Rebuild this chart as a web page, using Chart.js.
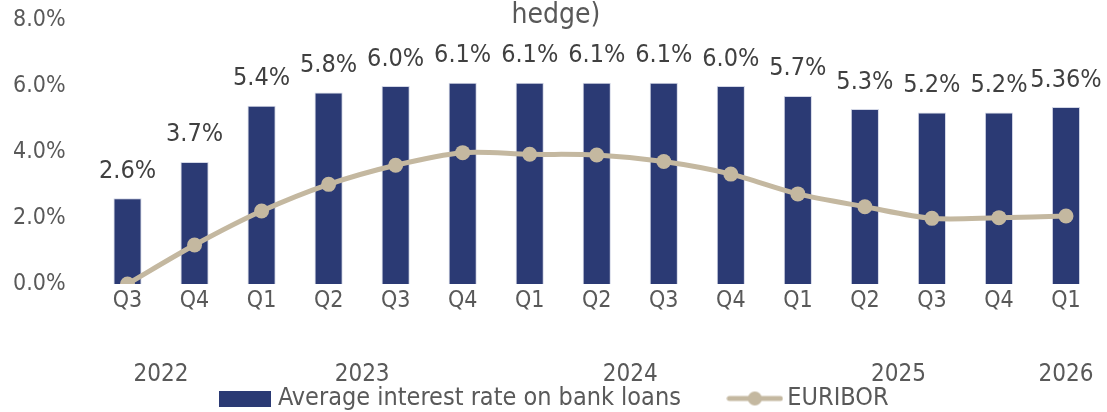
<!DOCTYPE html>
<html>
<head>
<meta charset="utf-8">
<script src="https://cdn.jsdelivr.net/npm/chart.js@4"></script>
<style>
  html, body { margin: 0; padding: 0; background: #fff; }
  #wrap { width: 1107px; height: 412px; }
</style>
</head>
<body>
<div id="wrap"><canvas id="rateChart"></canvas></div>
<script>
// data
const quarters = ['Q3', 'Q4', 'Q1', 'Q2', 'Q3', 'Q4', 'Q1', 'Q2', 'Q3', 'Q4', 'Q1', 'Q2', 'Q3', 'Q4', 'Q1'];
const quarterYears = ['2022', '2022', '2023', '2023', '2023', '2023', '2024', '2024', '2024', '2024', '2025', '2025', '2025', '2025', '2026'];
const loanRate = [2.6, 3.7, 5.4, 5.8, 6.0, 6.1, 6.1, 6.1, 6.1, 6.0, 5.7, 5.3, 5.2, 5.2, 5.36];
const euribor = [0.0, 1.18, 2.21, 3.02, 3.6, 3.98, 3.93, 3.91, 3.71, 3.33, 2.73, 2.34, 1.99, 2.01, 2.06];
const yTicks = [0, 2, 4, 6, 8];
const titleText = 'hedge)';

const FONT = '"DejaVu Sans Condensed", "Liberation Sans Narrow", "Open Sans", sans-serif';
const TEXT = '#595959';
const NAVY = '#2B3A74';
const SAND = '#C4B8A0';

// legend swatches: a plain box and a line with a dot
function swatch(kind) {
    const c = document.createElement('canvas');
    const g = c.getContext('2d');
    if (kind === 'bar') {
        c.width = 52; c.height = 16;
        g.fillStyle = NAVY;
        g.fillRect(0, 0, 52, 16);
    } else {
        c.width = 57; c.height = 16;
        g.strokeStyle = SAND;
        g.lineWidth = 5;
        g.lineCap = 'round';
        g.beginPath(); g.moveTo(3, 8); g.lineTo(54, 8); g.stroke();
        g.fillStyle = SAND;
        g.beginPath(); g.arc(28.5, 8, 7, 0, Math.PI * 2); g.fill();
    }
    return c;
}

function fmt(v) {
    return (Math.round(v * 10) === v * 10 ? v.toFixed(1) : v.toFixed(2)) + '%';
}

// title line, value labels above the bars, year row under the quarters
const extraText = {
    id: 'extraText',
    afterDatasetsDraw(chart) {
        const ctx = chart.ctx;
        ctx.save();
        ctx.textAlign = 'center';
        ctx.textBaseline = 'middle';

        ctx.fillStyle = TEXT;
        ctx.font = '28px ' + FONT;
        ctx.fillText(titleText, 556, 16);

        const meta = chart.getDatasetMeta(1);
        ctx.font = '25px ' + FONT;
        ctx.fillStyle = '#404040';
        meta.data.forEach((bar, i) => {
            ctx.fillText(fmt(loanRate[i]), bar.x, bar.y - 27);
        });

        const xs = chart.scales.x;
        ctx.fillStyle = TEXT;
        ctx.font = '24px ' + FONT;
        let start = 0;
        for (let i = 1; i <= quarterYears.length; i++) {
            if (i === quarterYears.length || quarterYears[i] !== quarterYears[start]) {
                const mid = (xs.getPixelForValue(start) + xs.getPixelForValue(i - 1)) / 2;
                ctx.fillText(quarterYears[start], mid, 375);
                start = i;
            }
        }
        ctx.restore();
    }
};

new Chart(document.getElementById('rateChart'), {
    data: {
        labels: quarters,
        datasets: [{
            type: 'line',
            label: 'EURIBOR',
            data: euribor,
            borderColor: SAND,
            backgroundColor: SAND,
            borderWidth: 5,
            pointRadius: 7.5,
            pointBackgroundColor: SAND,
            pointBorderWidth: 0,
            tension: 0.3,
            order: 0
        }, {
            type: 'bar',
            label: 'Average interest rate on bank loans',
            data: loanRate,
            backgroundColor: NAVY,
            borderColor: '#D3D7E6',
            borderWidth: 1,
            barPercentage: 0.5,
            categoryPercentage: 0.84,
            order: 1
        }]
    },
    options: {
        responsive: true,
        maintainAspectRatio: false,
        animation: false,
        layout: { padding: { left: 13, right: 6, top: 20, bottom: -9 } },
        scales: {
            x: {
                grid: { display: false, drawTicks: false },
                border: { display: false },
                ticks: { color: TEXT, font: { family: FONT, size: 23 }, padding: 3, maxRotation: 0 },
                afterFit: (s) => { s.height = 48; }
            },
            y: {
                min: 0,
                max: 8,
                afterBuildTicks: (s) => { s.ticks = yTicks.map(v => ({ value: v })); },
                grid: { display: false, drawTicks: false },
                border: { display: false },
                ticks: {
                    color: TEXT,
                    font: { family: FONT, size: 23 },
                    padding: 0,
                    crossAlign: 'far',
                    callback: (v) => v.toFixed(1) + '%'
                },
                afterFit: (s) => { s.width = 81; }
            }
        },
        plugins: {
            title: { display: false },
            legend: {
                position: 'bottom',
                labels: {
                    color: TEXT,
                    font: { family: FONT, size: 25 },
                    usePointStyle: true,
                    pointStyleWidth: 40,
                    boxHeight: 16,
                    padding: 54,
                    generateLabels: (chart) => [1, 0].map(i => ({
                        text: chart.data.datasets[i].label,
                        fontColor: TEXT,
                        datasetIndex: i,
                        pointStyle: swatch(chart.data.datasets[i].type),
                        lineWidth: 0
                    }))
                }
            },
            tooltip: { enabled: false }
        }
    },
    plugins: [extraText]
});
</script>
</body>
</html>
